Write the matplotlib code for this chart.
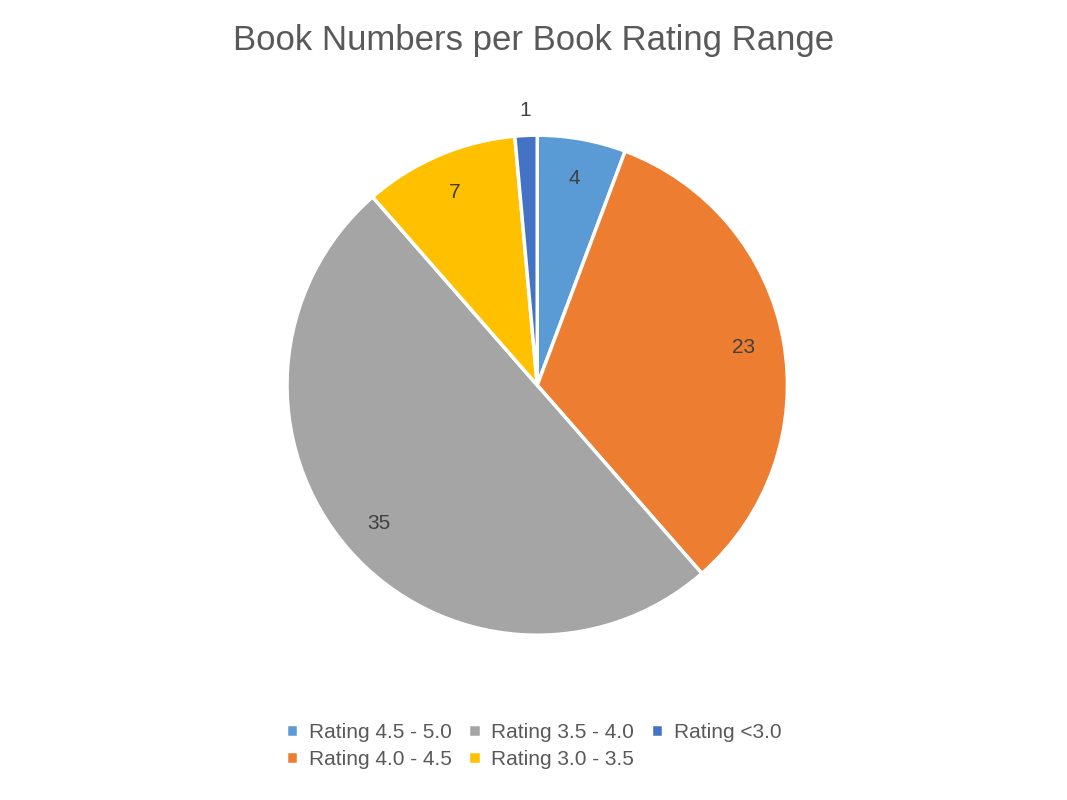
import matplotlib.pyplot as plt
import numpy as np

labels = ["Rating 4.5 - 5.0", "Rating 4.0 - 4.5", "Rating 3.5 - 4.0", "Rating 3.0 - 3.5", "Rating <3.0"]
values = [4, 23, 35, 7, 1]
colors = ["#5B9BD5", "#ED7D31", "#A5A5A5", "#FFC000", "#4472C4"]

plt.rcParams["font.family"] = ["Liberation Sans", "DejaVu Sans"]

fig = plt.figure(figsize=(10.67, 8), dpi=100)
ax = fig.add_axes([0.269, 0.206, 0.469, 0.625])

wedges, _ = ax.pie(values, colors=colors, startangle=90, counterclock=False,
                   wedgeprops=dict(edgecolor="white", linewidth=2.5))
ax.set_aspect("auto")
ax.set_xlim(-1, 1)
ax.set_ylim(-1, 1)

total = sum(values)
for w, v in zip(wedges, values):
    ang = np.deg2rad((w.theta1 + w.theta2) / 2)
    r = 1.1 if v == 1 else 0.84
    ax.text(r * np.cos(ang), r * np.sin(ang), str(v), ha="center", va="center",
            fontsize=15, color="#404040")

fig.suptitle("Book Numbers per Book Rating Range", y=0.97, fontsize=25, color="#595959")

fig.legend(wedges, labels, loc="upper center", bbox_to_anchor=(0.5, 0.12), ncol=3,
           frameon=False, fontsize=15, handlelength=0.6, handleheight=0.6,
           handletextpad=0.5, columnspacing=0.8, labelspacing=0.4,
           labelcolor="#595959")

fig.savefig("out.png", dpi=100)
